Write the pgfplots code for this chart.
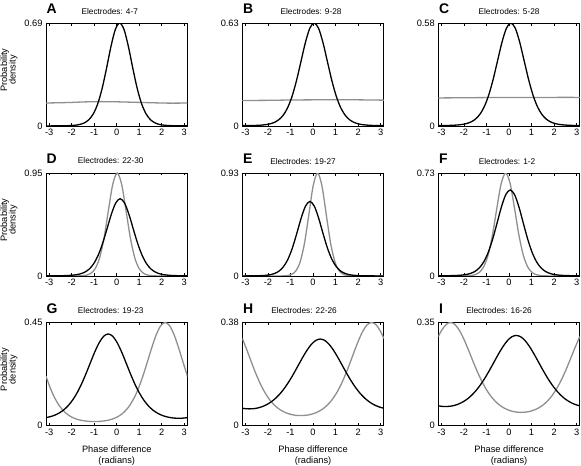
\documentclass[border=0pt]{standalone}
\usepackage{fontspec}
\setmainfont{Liberation Sans}
\usepackage{pgfplots}
\pgfplotsset{compat=1.18}
\definecolor{curvegray}{gray}{0.56}
\pgfplotsset{
  panel/.style={
    scale only axis, width=141.5bp, height=103bp,
    anchor=south west,
    xmin=-3.1416, xmax=3.1416, ymin=0,
    xtick={-3,-2,-1,0,1,2,3},
    xticklabels={-3,-2,-1,0,1,2,3},
    tick align=inside, tick pos=both,
    major tick length=2.5bp,
    tick style={black, line width=0.6bp},
    axis line style={line width=0.8bp},
    tick label style={font=\fontsize{9.3}{10}\selectfont},
    every axis title/.style={at={(0.5,1)}, anchor=base, yshift=9bp, font=\fontsize{8.3}{10}\selectfont},
  },
  blk/.style={black, line width=1.3bp, smooth},
  gry/.style={curvegray, line width=1.3bp, smooth},
}
\tikzset{
  letter/.style={anchor=base west, inner sep=0pt, font=\bfseries\fontsize{14}{14}\selectfont},
  lab/.style={anchor=base, inner sep=0pt, font=\fontsize{9.3}{10}\selectfont},
}
\begin{document}
\begin{tikzpicture}
\useasboundingbox (0,0) rectangle (581bp,466bp);
% ---------------- A
\begin{axis}[panel, at={(46bp,340bp)}, ymax=0.69, ytick={0,0.69}, yticklabels={0,0.69},
  title={Electrodes: 4-7}, title style={xshift=-7bp}]
\addplot[gry] coordinates {(-3.1416,0.154) (-2.5,0.156) (-2,0.158) (-1.5,0.161) (-1,0.163) (-0.5,0.163) (0,0.162) (0.5,0.160) (1,0.158) (1.5,0.156) (2,0.154) (2.5,0.153) (3.1416,0.154)};
\addplot[blk] coordinates {(-3.1416,0.0006) (-3.0116,0.0006) (-2.8152,0.0007) (-2.6189,0.0008) (-2.4225,0.0011) (-2.2262,0.0018) (-2.0298,0.0030) (-1.8335,0.0055) (-1.6371,0.0105) (-1.4408,0.0208) (-1.2444,0.0412) (-1.0481,0.0795) (-0.8517,0.1457) (-0.6554,0.2475) (-0.4590,0.3825) (-0.2627,0.5286) (-0.0663,0.6451) (0.13,0.69) (0.3263,0.6451) (0.5227,0.5286) (0.7190,0.3825) (0.9154,0.2475) (1.1117,0.1457) (1.3081,0.0795) (1.5044,0.0412) (1.7008,0.0208) (1.8971,0.0105) (2.0935,0.0055) (2.2898,0.0030) (2.4862,0.0018) (2.6825,0.0011) (2.8789,0.0008) (3.0752,0.0007) (3.1416,0.0006)};
\end{axis}
% ---------------- B
\begin{axis}[panel, at={(242.3bp,340bp)}, ymax=0.63, ytick={0,0.63}, yticklabels={0,0.63},
  title={Electrodes: 9-28}, title style={xshift=-2bp}]
\addplot[gry] coordinates {(-3.1416,0.156) (-2,0.157) (-1,0.159) (0,0.160) (1,0.161) (2,0.160) (3.1416,0.158)};
\addplot[blk] coordinates {(-3.1416,0.0023) (-3.0916,0.0023) (-2.8952,0.0025) (-2.6989,0.0029) (-2.5025,0.0037) (-2.3062,0.0053) (-2.1098,0.0081) (-1.9135,0.0131) (-1.7171,0.0222) (-1.5208,0.0383) (-1.3244,0.0662) (-1.1281,0.1119) (-0.9317,0.1815) (-0.7354,0.2775) (-0.5390,0.3930) (-0.3427,0.5091) (-0.1463,0.5970) (0.05,0.63) (0.2463,0.5970) (0.4427,0.5091) (0.6390,0.3930) (0.8354,0.2775) (1.0317,0.1815) (1.2281,0.1119) (1.4244,0.0662) (1.6208,0.0383) (1.8171,0.0222) (2.0135,0.0131) (2.2098,0.0081) (2.4062,0.0053) (2.6025,0.0037) (2.7989,0.0029) (2.9952,0.0025) (3.1416,0.0023)};
\end{axis}
% ---------------- C
\begin{axis}[panel, at={(438.3bp,340bp)}, ymax=0.58, ytick={0,0.58}, yticklabels={0,0.58},
  title={Electrodes: 5-28}, title style={xshift=0bp}]
\addplot[gry] coordinates {(-3.1416,0.158) (-2,0.159) (-1,0.160) (0,0.160) (1,0.160) (2,0.161) (3.1416,0.161)};
\addplot[blk] coordinates {(-3.1416,0.0026) (-3.0616,0.0026) (-2.8652,0.0028) (-2.6689,0.0032) (-2.4725,0.0041) (-2.2762,0.0058) (-2.0798,0.0087) (-1.8835,0.0139) (-1.6871,0.0230) (-1.4908,0.0390) (-1.2944,0.0660) (-1.0981,0.1095) (-0.9017,0.1747) (-0.7054,0.2630) (-0.5090,0.3680) (-0.3127,0.4723) (-0.1163,0.5507) (0.08,0.58) (0.2763,0.5507) (0.4727,0.4723) (0.6690,0.3680) (0.8654,0.2630) (1.0617,0.1747) (1.2581,0.1095) (1.4544,0.0660) (1.6508,0.0390) (1.8471,0.0230) (2.0435,0.0139) (2.2398,0.0087) (2.4362,0.0058) (2.6325,0.0041) (2.8289,0.0032) (3.0252,0.0028) (3.1416,0.0026)};
\end{axis}
% ---------------- D
\begin{axis}[panel, at={(46bp,190bp)}, ymax=0.95, ytick={0,0.95}, yticklabels={0,0.95},
  title={Electrodes: 22-30}, title style={xshift=-6bp}]
\addplot[gry] coordinates {(-3.1416,0) (-2.1398,0) (-1.9435,0.0002) (-1.7471,0.0007) (-1.5508,0.0024) (-1.3544,0.0076) (-1.1581,0.0234) (-0.9617,0.0660) (-0.7654,0.1639) (-0.5690,0.3456) (-0.3727,0.6017) (-0.1763,0.8466) (0.02,0.95) (0.2163,0.8466) (0.4127,0.6017) (0.6090,0.3456) (0.8054,0.1639) (1.0017,0.0660) (1.1981,0.0234) (1.3944,0.0076) (1.5908,0.0024) (1.7871,0.0007) (1.9835,0.0002) (2.1798,0) (3.1416,0)};
\addplot[blk] coordinates {(-3.1416,0.0018) (-2.9916,0.0018) (-2.7952,0.0019) (-2.5989,0.0022) (-2.4025,0.0029) (-2.2062,0.0043) (-2.0098,0.0067) (-1.8135,0.0113) (-1.6171,0.0198) (-1.4208,0.0355) (-1.2244,0.0637) (-1.0281,0.1119) (-0.8317,0.1880) (-0.6354,0.2961) (-0.4390,0.4300) (-0.2427,0.5675) (-0.0463,0.6731) (0.15,0.713) (0.3463,0.6731) (0.5427,0.5675) (0.7390,0.4300) (0.9354,0.2961) (1.1317,0.1880) (1.3281,0.1119) (1.5244,0.0637) (1.7208,0.0355) (1.9171,0.0198) (2.1135,0.0113) (2.3098,0.0067) (2.5062,0.0043) (2.7025,0.0029) (2.8989,0.0022) (3.0952,0.0019) (3.1416,0.0018)};
\end{axis}
% ---------------- E
\begin{axis}[panel, at={(242.3bp,190bp)}, ymax=0.93, ytick={0,0.93}, yticklabels={0,0.93},
  title={Electrodes: 19-27}, title style={xshift=-10bp}]
\addplot[gry] coordinates {(-3.1416,0) (-1.9598,0) (-1.7635,0) (-1.5671,0.0002) (-1.3708,0.0008) (-1.1744,0.0033) (-0.9781,0.0124) (-0.7817,0.0414) (-0.5854,0.1197) (-0.3890,0.2859) (-0.1927,0.5459) (0.0037,0.8130) (0.2,0.93) (0.3963,0.8130) (0.5927,0.5459) (0.7890,0.2859) (0.9854,0.1197) (1.1817,0.0414) (1.3781,0.0124) (1.5744,0.0033) (1.7708,0.0008) (1.9671,0.0002) (2.1635,0) (3.1416,0)};
\addplot[blk] coordinates {(-3.1416,0.0008) (-3.0852,0.0008) (-2.8889,0.0010) (-2.6925,0.0013) (-2.4962,0.0020) (-2.2998,0.0034) (-2.1035,0.0061) (-1.9071,0.0116) (-1.7108,0.0225) (-1.5144,0.0436) (-1.3181,0.0825) (-1.1217,0.1485) (-0.9254,0.2486) (-0.7290,0.3795) (-0.5327,0.5195) (-0.3363,0.6305) (-0.14,0.673) (0.0563,0.6305) (0.2527,0.5195) (0.4490,0.3795) (0.6454,0.2486) (0.8417,0.1485) (1.0381,0.0825) (1.2344,0.0436) (1.4308,0.0225) (1.6271,0.0116) (1.8235,0.0061) (2.0198,0.0034) (2.2162,0.0020) (2.4125,0.0013) (2.6089,0.0010) (2.8052,0.0008) (3.0016,0.0007) (3.1416,0.0008)};
\end{axis}
% ---------------- F
\begin{axis}[panel, at={(438.3bp,190bp)}, ymax=0.73, ytick={0,0.73}, yticklabels={0,0.73},
  title={Electrodes: 1-2}, title style={xshift=-2bp}]
\addplot[gry] coordinates {(-3.1416,0) (-2.5062,0) (-2.3098,0.0001) (-2.1135,0.0004) (-1.9171,0.0010) (-1.7208,0.0030) (-1.5244,0.0087) (-1.3281,0.0245) (-1.1317,0.0634) (-0.9354,0.1458) (-0.7390,0.2889) (-0.5427,0.4803) (-0.3463,0.6568) (-0.15,0.73) (0.0463,0.6568) (0.2427,0.4803) (0.4390,0.2889) (0.6354,0.1458) (0.8317,0.0634) (1.0281,0.0245) (1.2244,0.0087) (1.4208,0.0030) (1.6171,0.0010) (1.8135,0.0004) (2.0098,0.0001) (2.2062,0) (3.1416,0)};
\addplot[blk] coordinates {(-3.1416,0.0017) (-3.0916,0.0017) (-2.8952,0.0018) (-2.6989,0.0021) (-2.5025,0.0028) (-2.3062,0.0040) (-2.1098,0.0062) (-1.9135,0.0103) (-1.7171,0.0180) (-1.5208,0.0319) (-1.3244,0.0568) (-1.1281,0.0987) (-0.9317,0.1644) (-0.7354,0.2571) (-0.5390,0.3710) (-0.3427,0.4873) (-0.1463,0.5764) (0.05,0.61) (0.2463,0.5764) (0.4427,0.4873) (0.6390,0.3710) (0.8354,0.2571) (1.0317,0.1644) (1.2281,0.0987) (1.4244,0.0568) (1.6208,0.0319) (1.8171,0.0180) (2.0135,0.0103) (2.2098,0.0062) (2.4062,0.0040) (2.6025,0.0028) (2.7989,0.0021) (2.9952,0.0018) (3.1416,0.0017)};
\end{axis}
% ---------------- G
\begin{axis}[panel, at={(46bp,40.5bp)}, ymax=0.45, ytick={0,0.45}, yticklabels={0,0.45},
  title={Electrodes: 19-23}, title style={xshift=-6bp}]
\addplot[gry] coordinates {(-3.1416,0.2154) (-2.9551,0.1645) (-2.7587,0.1212) (-2.5624,0.0882) (-2.3660,0.0642) (-2.1697,0.0473) (-1.9733,0.0356) (-1.7770,0.0278) (-1.5806,0.0227) (-1.3843,0.0196) (-1.1879,0.0178) (-0.9916,0.0173) (-0.7952,0.0178) (-0.5989,0.0196) (-0.4025,0.0227) (-0.2062,0.0278) (-0.0098,0.0356) (0.1865,0.0473) (0.3829,0.0642) (0.5792,0.0882) (0.7756,0.1212) (0.9719,0.1645) (1.1683,0.2181) (1.3646,0.2792) (1.5610,0.3419) (1.7573,0.3975) (1.9537,0.4361) (2.15,0.45) (2.3463,0.4361) (2.5427,0.3975) (2.7390,0.3419) (2.9354,0.2792) (3.1317,0.2181) (3.1416,0.2154)};
\addplot[blk] coordinates {(-3.1416,0.0346) (-3.1289,0.0348) (-2.9325,0.0391) (-2.7362,0.0458) (-2.5398,0.0555) (-2.3435,0.0691) (-2.1471,0.0877) (-1.9508,0.1123) (-1.7544,0.1439) (-1.5581,0.1826) (-1.3617,0.2275) (-1.1654,0.2758) (-0.9690,0.3229) (-0.7727,0.3631) (-0.5763,0.3904) (-0.38,0.40) (-0.1837,0.3904) (0.0127,0.3631) (0.2090,0.3229) (0.4054,0.2758) (0.6017,0.2275) (0.7981,0.1826) (0.9944,0.1439) (1.1908,0.1123) (1.3871,0.0877) (1.5835,0.0691) (1.7798,0.0555) (1.9762,0.0458) (2.1725,0.0391) (2.3689,0.0348) (2.5652,0.0323) (2.7616,0.0316) (2.9579,0.0323) (3.1416,0.0346)};
\end{axis}
% ---------------- H
\begin{axis}[panel, at={(242.3bp,40.5bp)}, ymax=0.38, ytick={0,0.38}, yticklabels={0,0.38},
  title={Electrodes: 22-26}, title style={xshift=-9bp}]
\addplot[gry] coordinates {(-3.1416,0.3214) (-3.0942,0.3120) (-2.8978,0.2698) (-2.7015,0.2259) (-2.5051,0.1846) (-2.3088,0.1482) (-2.1124,0.1179) (-1.9161,0.0939) (-1.7197,0.0754) (-1.5234,0.0616) (-1.3270,0.0516) (-1.1307,0.0446) (-0.9343,0.0400) (-0.7380,0.0374) (-0.5416,0.0366) (-0.3453,0.0374) (-0.1489,0.0400) (0.0474,0.0446) (0.2438,0.0516) (0.4401,0.0616) (0.6365,0.0754) (0.8328,0.0939) (1.0292,0.1179) (1.2255,0.1482) (1.4219,0.1846) (1.6182,0.2259) (1.8146,0.2698) (2.0110,0.3120) (2.2073,0.3476) (2.4037,0.3716) (2.6,0.38) (2.7963,0.3716) (2.9927,0.3476) (3.1416,0.3214)};
\addplot[blk] coordinates {(-3.1416,0.0639) (-3.0179,0.0622) (-2.8216,0.0613) (-2.6252,0.0622) (-2.4289,0.0652) (-2.2325,0.0704) (-2.0362,0.0780) (-1.8398,0.0884) (-1.6435,0.1019) (-1.4471,0.1190) (-1.2508,0.1398) (-1.0544,0.1642) (-0.8581,0.1917) (-0.6617,0.2211) (-0.4654,0.2505) (-0.2690,0.2776) (-0.0727,0.2996) (0.1237,0.3140) (0.32,0.319) (0.5163,0.3140) (0.7127,0.2996) (0.9090,0.2776) (1.1054,0.2505) (1.3017,0.2211) (1.4981,0.1917) (1.6944,0.1642) (1.8908,0.1398) (2.0871,0.1190) (2.2835,0.1019) (2.4798,0.0884) (2.6762,0.0780) (2.8725,0.0704) (3.0689,0.0652) (3.1416,0.0639)};
\end{axis}
% ---------------- I
\begin{axis}[panel, at={(438.3bp,40.5bp)}, ymax=0.35, ytick={0,0.35}, yticklabels={0,0.35},
  title={Electrodes: 16-26}, title style={xshift=-10bp}]
\addplot[gry] coordinates {(-3.1416,0.3020) (-2.9927,0.3236) (-2.7963,0.3431) (-2.6,0.35) (-2.4037,0.3431) (-2.2073,0.3236) (-2.0110,0.2942) (-1.8146,0.2588) (-1.6182,0.2214) (-1.4219,0.1853) (-1.2255,0.1528) (-1.0292,0.1250) (-0.8328,0.1022) (-0.6365,0.0843) (-0.4401,0.0705) (-0.2438,0.0603) (-0.0474,0.0531) (0.1489,0.0482) (0.3453,0.0455) (0.5416,0.0446) (0.7380,0.0455) (0.9343,0.0482) (1.1307,0.0531) (1.3270,0.0603) (1.5234,0.0705) (1.7197,0.0843) (1.9161,0.1022) (2.1124,0.1250) (2.3088,0.1528) (2.5051,0.1853) (2.7015,0.2214) (2.8978,0.2588) (3.0942,0.2942) (3.1416,0.3020)};
\addplot[blk] coordinates {(-3.1416,0.0669) (-3.0179,0.0653) (-2.8216,0.0643) (-2.6252,0.0653) (-2.4289,0.0682) (-2.2325,0.0733) (-2.0362,0.0808) (-1.8398,0.0909) (-1.6435,0.1041) (-1.4471,0.1205) (-1.2508,0.1403) (-1.0544,0.1633) (-0.8581,0.1891) (-0.6617,0.2164) (-0.4654,0.2435) (-0.2690,0.2683) (-0.0727,0.2884) (0.1237,0.3015) (0.32,0.306) (0.5163,0.3015) (0.7127,0.2884) (0.9090,0.2683) (1.1054,0.2435) (1.3017,0.2164) (1.4981,0.1891) (1.6944,0.1633) (1.8908,0.1403) (2.0871,0.1205) (2.2835,0.1041) (2.4798,0.0909) (2.6762,0.0808) (2.8725,0.0733) (3.0689,0.0682) (3.1416,0.0669)};
\end{axis}
% ---------------- panel letters
\node[letter] at (46.5bp,452bp) {A};
\node[letter] at (242.8bp,452bp) {B};
\node[letter] at (438.8bp,452bp) {C};
\node[letter] at (46.5bp,302bp) {D};
\node[letter] at (242.8bp,302bp) {E};
\node[letter] at (438.8bp,302bp) {F};
\node[letter] at (46.5bp,152.5bp) {G};
\node[letter] at (242.8bp,152.5bp) {H};
\node[letter] at (438.8bp,152.5bp) {I};
% ---------------- y labels
\foreach \yc in {396,246,96.5}{
  \node[lab, rotate=90] at (7bp,\yc bp) {Probability};
  \node[lab, rotate=90] at (15.5bp,\yc bp) {density};
}
% ---------------- x labels
\foreach \xc in {116.75,313.05,509.05}{
  \node[lab] at (\xc bp,14bp) {Phase difference};
  \node[lab] at (\xc bp,3bp) {(radians)};
}
\end{tikzpicture}
\end{document}
